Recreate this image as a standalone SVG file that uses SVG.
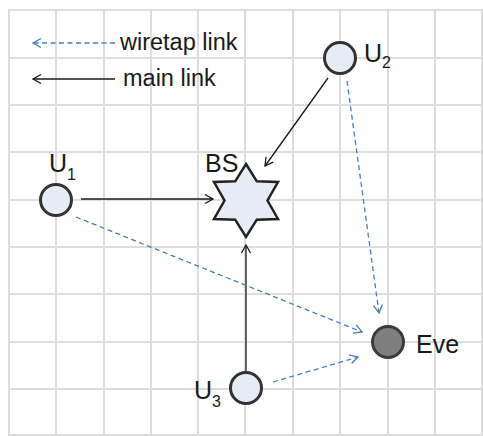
<svg xmlns="http://www.w3.org/2000/svg" width="483" height="436" viewBox="0 0 483 436">
<defs>
<style>
.grid line{stroke:#dddddd;stroke-width:2}
.main{stroke:#1a1a1a;stroke-width:1.3;fill:none;marker-end:url(#ab)}
.tap{stroke:#4a7ebb;stroke-width:1.3;fill:none;stroke-dasharray:5,3.5;marker-end:url(#au)}
.user{fill:#e6ebf5;stroke:#333;stroke-width:3}
.lbl{font-family:"Liberation Sans",Arial,sans-serif;font-size:25px;fill:#1a1a1a}
.sub{font-size:16px}
.leg{font-family:"Liberation Sans",Arial,sans-serif;font-size:23.5px;fill:#1a1a1a}
</style>
<marker id="ab" markerWidth="12" markerHeight="12" refX="10" refY="6" orient="auto" markerUnits="userSpaceOnUse"><path d="M2,1.5 L10,6 L2,10.5" fill="none" stroke="#1a1a1a" stroke-width="1.3"/></marker>
<marker id="au" markerWidth="12" markerHeight="12" refX="10" refY="6" orient="auto" markerUnits="userSpaceOnUse"><path d="M2,1.5 L10,6 L2,10.5" fill="none" stroke="#4a7ebb" stroke-width="1.3"/></marker>
</defs>
<rect width="483" height="436" fill="#fff"/>
<g class="grid">
<line x1="9" y1="9" x2="9" y2="436"/><line x1="56" y1="9" x2="56" y2="436"/><line x1="104" y1="9" x2="104" y2="436"/><line x1="151" y1="9" x2="151" y2="436"/><line x1="198" y1="9" x2="198" y2="436"/><line x1="245" y1="9" x2="245" y2="436"/><line x1="293" y1="9" x2="293" y2="436"/><line x1="340" y1="9" x2="340" y2="436"/><line x1="388" y1="9" x2="388" y2="436"/><line x1="435" y1="9" x2="435" y2="436"/><line x1="482" y1="9" x2="482" y2="436"/>
<line x1="9" y1="10" x2="483" y2="10"/><line x1="9" y1="58" x2="483" y2="58"/><line x1="9" y1="105" x2="483" y2="105"/><line x1="9" y1="152" x2="483" y2="152"/><line x1="9" y1="200" x2="483" y2="200"/><line x1="9" y1="247" x2="483" y2="247"/><line x1="9" y1="294" x2="483" y2="294"/><line x1="9" y1="342" x2="483" y2="342"/><line x1="9" y1="389" x2="483" y2="389"/><line x1="9" y1="435" x2="483" y2="435"/>
</g>
<g id="legend">
<line class="tap" x1="115" y1="43" x2="33" y2="43"/>
<text class="leg" x="120" y="50">wiretap link</text>
<line class="main" x1="115" y1="79" x2="33" y2="79"/>
<text class="leg" x="123" y="86">main link</text>
</g>
<g id="connectors">
<line class="main" x1="81" y1="199" x2="213" y2="199"/>
<line class="main" x1="328" y1="78" x2="265" y2="166"/>
<line class="main" x1="246" y1="371" x2="246" y2="245"/>
<line class="tap" x1="347" y1="81" x2="379" y2="313"/>
<line class="tap" x1="76" y1="217" x2="362" y2="332"/>
<line class="tap" x1="273" y1="382" x2="358" y2="357"/>
</g>
<g id="U1">
<circle class="user" cx="56" cy="200" r="15.5"/>
<text class="lbl" x="49" y="172">U<tspan class="sub" dy="8">1</tspan></text>
</g>
<g id="U2">
<circle class="user" cx="340" cy="58" r="15.5"/>
<text class="lbl" x="364" y="62">U<tspan class="sub" dy="6">2</tspan></text>
</g>
<g id="U3">
<circle class="user" cx="246" cy="388" r="15.5"/>
<text class="lbl" x="194" y="399">U<tspan class="sub" dy="8">3</tspan></text>
</g>
<g id="BS">
<polygon points="246,164 256.8,181.3 278,182 267.5,200.5 278,219 256.8,219.7 246,237 235.2,219.7 214,219 224.5,200.5 214,182 235.2,181.3" fill="#e6ebf5" stroke="#222" stroke-width="2.5" stroke-linejoin="miter"/>
<text class="lbl" x="205" y="172">BS</text>
</g>
<g id="Eve">
<circle cx="388" cy="342" r="15.5" fill="#7f7f7f" stroke="#3a3a3a" stroke-width="3"/>
<text class="lbl" x="416" y="353">Eve</text>
</g>
</svg>
